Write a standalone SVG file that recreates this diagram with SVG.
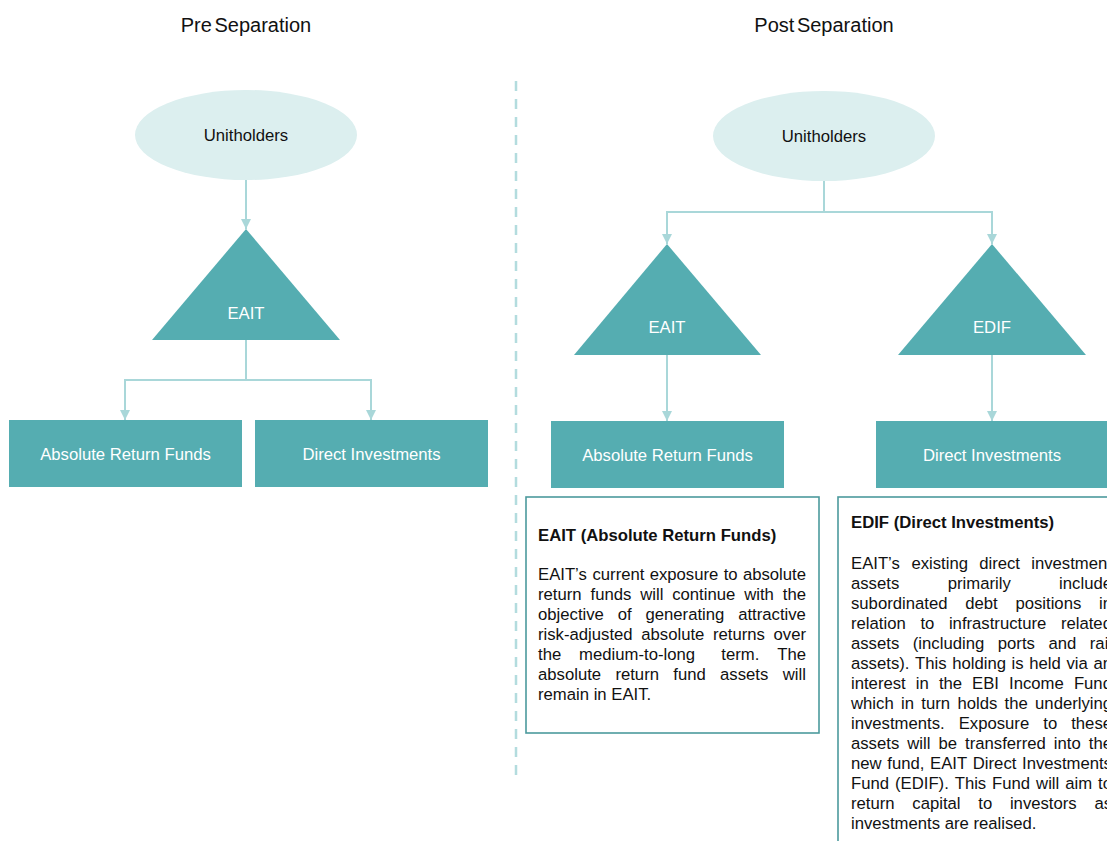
<svg xmlns="http://www.w3.org/2000/svg" width="1107" height="841" viewBox="0 0 1107 841">
<defs>
<marker id="arr" viewBox="0 0 10 10" refX="10" refY="5" markerWidth="10" markerHeight="10" markerUnits="userSpaceOnUse" orient="auto">
<path d="M0,0 L10,5 L0,10 z" fill="#a9d7d9"/>
</marker>
<style>
text{font-family:"Liberation Sans",Arial,sans-serif;}
.head{font-size:20px;fill:#111;word-spacing:-3px;}
.ell{fill:#dcefef;}
.tri,.box{fill:#55adb1;}
.lbl{font-size:16.7px;fill:#fff;text-anchor:middle;}
.lbld{font-size:16.7px;fill:#111;text-anchor:middle;}
.conn{fill:none;stroke:#a9d7d9;stroke-width:2;}
.note{fill:#fff;stroke:#4c9a9d;stroke-width:1.6;}
.body{font-size:16.7px;fill:#111;}
.bold{font-size:16.7px;fill:#111;font-weight:bold;}
</style>
</defs>
<rect width="1107" height="841" fill="#fff"/>

<text class="head" x="246" y="32" text-anchor="middle">Pre Separation</text>
<text class="head" x="824" y="32" text-anchor="middle">Post Separation</text>

<line x1="516" y1="81" x2="516" y2="780" stroke="#b3dcde" stroke-width="2.5" stroke-dasharray="10,8"/>

<g id="connectors">
<path class="conn" d="M246,180 V229" marker-end="url(#arr)"/>
<path class="conn" d="M246,340 V380 H125 V420" marker-end="url(#arr)"/>
<path class="conn" d="M246,380 H371 V420" marker-end="url(#arr)"/>
<path class="conn" d="M824,181 V212 H667 V244" marker-end="url(#arr)"/>
<path class="conn" d="M824,212 H992 V244" marker-end="url(#arr)"/>
<path class="conn" d="M667,355 V421" marker-end="url(#arr)"/>
<path class="conn" d="M992,355 V421" marker-end="url(#arr)"/>
</g>

<g id="pre-unitholders">
<ellipse class="ell" cx="246" cy="135" rx="111" ry="45"/>
<text class="lbld" x="246" y="141">Unitholders</text>
</g>
<g id="pre-eait">
<polygon class="tri" points="246,229 340,340 152,340"/>
<text class="lbl" x="246" y="319">EAIT</text>
</g>
<g id="pre-arf">
<rect class="box" x="9" y="420" width="233" height="67"/>
<text class="lbl" x="125.5" y="460">Absolute Return Funds</text>
</g>
<g id="pre-di">
<rect class="box" x="255" y="420" width="233" height="67"/>
<text class="lbl" x="371.5" y="460">Direct Investments</text>
</g>

<g id="post-unitholders">
<ellipse class="ell" cx="824" cy="136" rx="111" ry="45"/>
<text class="lbld" x="824" y="142">Unitholders</text>
</g>
<g id="post-eait">
<polygon class="tri" points="667,244 761,355 574,355"/>
<text class="lbl" x="667" y="333">EAIT</text>
</g>
<g id="post-edif">
<polygon class="tri" points="992,244 1086,355 898,355"/>
<text class="lbl" x="992" y="333">EDIF</text>
</g>
<g id="post-arf">
<rect class="box" x="551" y="421" width="233" height="67"/>
<text class="lbl" x="667.5" y="461">Absolute Return Funds</text>
</g>
<g id="post-di">
<rect class="box" x="876" y="421" width="240" height="67"/>
<text class="lbl" x="992" y="461">Direct Investments</text>
</g>

<g id="note-eait">
<rect class="note" x="526" y="497" width="293" height="236"/>
<text class="bold" x="538" y="541">EAIT (Absolute Return Funds)</text>
<text class="body" y="580"><tspan x="538">EAIT’s</tspan><tspan x="592.5">current</tspan><tspan x="649.7">exposure</tspan><tspan x="723.7">to</tspan><tspan x="742.9">absolute</tspan></text>
<text class="body" y="600"><tspan x="538">return</tspan><tspan x="590.5">funds</tspan><tspan x="640.2">will</tspan><tspan x="672.2">continue</tspan><tspan x="744.2">with</tspan><tspan x="782.8">the</tspan></text>
<text class="body" y="620"><tspan x="538">objective</tspan><tspan x="617.7">of</tspan><tspan x="645.5">generating</tspan><tspan x="738.2">attractive</tspan></text>
<text class="body" y="640"><tspan x="538">risk-adjusted</tspan><tspan x="641.3">absolute</tspan><tspan x="713">returns</tspan><tspan x="773.6">over</tspan></text>
<text class="body" y="660"><tspan x="538">the</tspan><tspan x="579.1">medium-to-long</tspan><tspan x="721.3">term.</tspan><tspan x="777.2">The</tspan></text>
<text class="body" y="680"><tspan x="538">absolute</tspan><tspan x="615.4">return</tspan><tspan x="673.3">fund</tspan><tspan x="720.1">assets</tspan><tspan x="782.8">will</tspan></text>
<text class="body" x="538" y="700">remain in EAIT.</text>
</g>

<g id="note-edif">
<rect class="note" x="838" y="497" width="300" height="360"/>
<text class="bold" x="851" y="528">EDIF (Direct Investments)</text>
<text class="body" y="569"><tspan x="851">EAIT’s</tspan><tspan x="911.4">existing</tspan><tspan x="979.2">direct</tspan><tspan x="1031.2">investment</tspan></text>
<text class="body" y="589"><tspan x="851">assets</tspan><tspan x="947.7">primarily</tspan><tspan x="1059.1">include</tspan></text>
<text class="body" y="609"><tspan x="851">subordinated</tspan><tspan x="965.2">debt</tspan><tspan x="1015.4">positions</tspan><tspan x="1099">in</tspan></text>
<text class="body" y="629"><tspan x="851">relation</tspan><tspan x="920.4">to</tspan><tspan x="948.9">infrastructure</tspan><tspan x="1060.9">related</tspan></text>
<text class="body" y="649"><tspan x="851">assets</tspan><tspan x="912.8">(including</tspan><tspan x="997.8">ports</tspan><tspan x="1048.4">and</tspan><tspan x="1089.8">rail</tspan></text>
<text class="body" y="669"><tspan x="851">assets).</tspan><tspan x="915.1">This</tspan><tspan x="952.2">holding</tspan><tspan x="1011.6">is</tspan><tspan x="1029.3">held</tspan><tspan x="1066.5">via</tspan><tspan x="1093.4">an</tspan></text>
<text class="body" y="689"><tspan x="851">interest</tspan><tspan x="915.8">in</tspan><tspan x="938.9">the</tspan><tspan x="972.1">EBI</tspan><tspan x="1009">Income</tspan><tspan x="1073.9">Fund</tspan></text>
<text class="body" y="709"><tspan x="851">which</tspan><tspan x="901">in</tspan><tspan x="921.3">turn</tspan><tspan x="957.4">holds</tspan><tspan x="1004.6">the</tspan><tspan x="1035.1">underlying</tspan></text>
<text class="body" y="729"><tspan x="851">investments.</tspan><tspan x="958.7">Exposure</tspan><tspan x="1043.3">to</tspan><tspan x="1071.2">these</tspan></text>
<text class="body" y="749"><tspan x="851">assets</tspan><tspan x="907.3">will</tspan><tspan x="938.5">be</tspan><tspan x="965.1">transferred</tspan><tspan x="1053.8">into</tspan><tspan x="1088.8">the</tspan></text>
<text class="body" y="769"><tspan x="851">new</tspan><tspan x="887.3">fund,</tspan><tspan x="930">EAIT</tspan><tspan x="972.8">Direct</tspan><tspan x="1022">Investments</tspan></text>
<text class="body" y="789"><tspan x="851">Fund</tspan><tspan x="895">(EDIF).</tspan><tspan x="954.7">This</tspan><tspan x="992.1">Fund</tspan><tspan x="1036.1">will</tspan><tspan x="1065.2">aim</tspan><tspan x="1098">to</tspan></text>
<text class="body" y="809"><tspan x="851">return</tspan><tspan x="912.3">capital</tspan><tspan x="978.3">to</tspan><tspan x="1009.9">investors</tspan><tspan x="1094.4">as</tspan></text>
<text class="body" x="851" y="829">investments are realised.</text>
</g>
</svg>
